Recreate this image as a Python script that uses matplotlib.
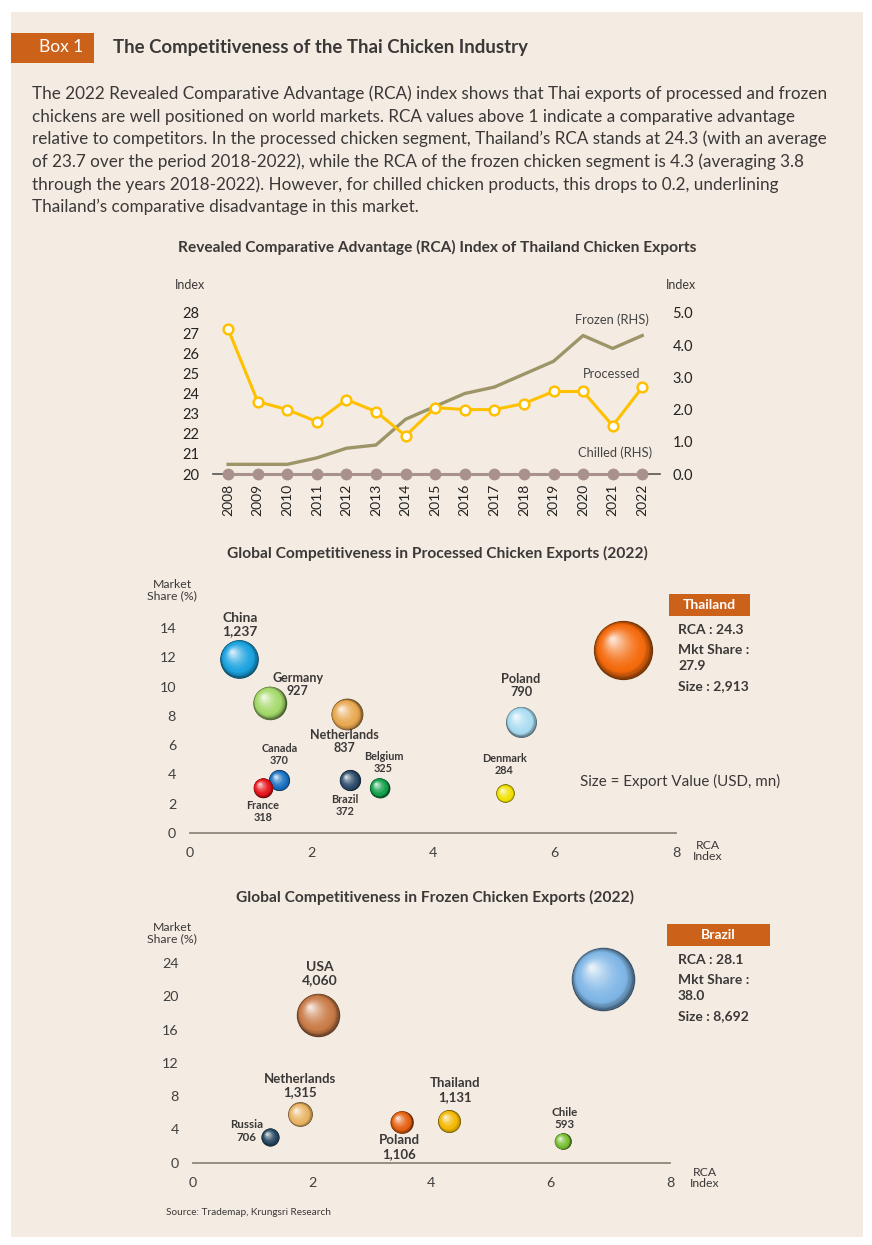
import numpy as np
import matplotlib
matplotlib.use("Agg")
import matplotlib.pyplot as plt
from matplotlib.patches import Rectangle
from matplotlib.transforms import offset_copy
from matplotlib.colors import to_rgb

plt.rcParams['font.family'] = ['Lato', 'DejaVu Sans']

W, H = 872, 1245
BG = '#f4ece2'
TXT = '#3b3838'
ORANGE = '#cc6119'

# ---- RCA line chart data ----
years = [2008, 2009, 2010, 2011, 2012, 2013, 2014, 2015, 2016, 2017, 2018, 2019, 2020, 2021, 2022]
processed = [27.2, 23.6, 23.2, 22.6, 23.7, 23.1, 21.9, 23.3, 23.2, 23.2, 23.5, 24.1, 24.1, 22.4, 24.3]
frozen = [0.3, 0.3, 0.3, 0.5, 0.8, 0.9, 1.7, 2.1, 2.5, 2.7, 3.1, 3.5, 4.3, 3.9, 4.3]
chilled = [0.0, 0.0, 0.0, 0.0, 0.0, 0.0, 0.0, 0.0, 0.0, 0.0, 0.0, 0.0, 0.0, 0.0, 0.0]

# ---- processed chicken bubbles ----
proc_names = ['China', 'Germany', 'Netherlands', 'Canada', 'France', 'Brazil', 'Belgium', 'Denmark', 'Poland', 'Thailand']
proc_rca = [0.81, 1.31, 2.58, 1.47, 1.20, 2.63, 3.12, 5.19, 5.45, 7.13]
proc_share = [11.9, 8.9, 8.1, 3.6, 3.1, 3.6, 3.1, 2.7, 7.6, 12.5]
proc_value = [1237, 927, 837, 370, 318, 372, 325, 284, 790, 2913]
proc_colors = ['#1ba3e0', '#a4d96a', '#e9a850', '#1a72c4', '#e8141c', '#2d4c6c', '#12a24c', '#f2e200', '#a9dcf2', '#f46a0c']

# ---- frozen chicken bubbles ----
frz_names = ['USA', 'Netherlands', 'Russia', 'Poland', 'Thailand', 'Chile', 'Brazil']
frz_rca = [2.10, 1.80, 1.30, 3.50, 4.30, 6.20, 6.88]
frz_share = [17.8, 5.8, 3.1, 4.9, 5.0, 2.6, 22.1]
frz_value = [4060, 1315, 706, 1106, 1131, 593, 8692]
frz_colors = ['#c97b47', '#e9b464', '#26465f', '#e5600f', '#f2b800', '#78bf33', '#7fb6e6']

body = [
    "The 2022 Revealed Comparative Advantage (RCA) index shows that Thai exports of processed and frozen",
    "chickens are well positioned on world markets. RCA values above 1 indicate a comparative advantage",
    "relative to competitors. In the processed chicken segment, Thailand\u2019s RCA stands at 24.3 (with an average",
    "of 23.7 over the period 2018-2022), while the RCA of the frozen chicken segment is 4.3 (averaging 3.8",
    "through the years 2018-2022). However, for chilled chicken products, this drops to 0.2, underlining",
    "Thailand\u2019s comparative disadvantage in this market.",
]


def fx(x):
    return x / W


def fy(y):
    return 1 - y / H


def spheres(ax, xs, ys, vals, colors, scale):
    n = 34
    for k, (x, y, v, c) in enumerate(zip(xs, ys, vals, colors)):
        base = np.array(to_rgb(c))
        dark = base * 0.42
        light = base + (1 - base) * 0.8
        s0 = v * scale
        r = np.sqrt(s0) / 2
        for i in range(n):
            t = i / (n - 1)
            f = 1 - 0.92 * t
            if t < 0.22:
                col = dark + (base - dark) * (t / 0.22) ** 0.7
            else:
                col = base + (light - base) * ((t - 0.22) / 0.78) ** 1.6
            off = (1 - f) * r * 0.4
            tr = offset_copy(ax.transData, fig=ax.figure, x=-off, y=off, units='points')
            ax.scatter([x], [y], s=s0 * f * f, color=np.clip(col, 0, 1), transform=tr,
                       linewidths=0, clip_on=False, zorder=3 + k + i * 0.01)


def bubble_axes(ax, ymax, yticks):
    ax.set_facecolor('none')
    ax.set_xlim(0, 8)
    ax.set_ylim(0, ymax)
    ax.set_xticks([0, 2, 4, 6, 8])
    ax.set_yticks(yticks)
    for s in ['top', 'right', 'left']:
        ax.spines[s].set_visible(False)
    ax.spines['bottom'].set_color('#8f857c')
    ax.spines['bottom'].set_linewidth(1.3)
    ax.tick_params(axis='both', length=0, labelsize=10.3, labelcolor='#404040')
    ax.tick_params(axis='y', pad=10)
    ax.tick_params(axis='x', pad=10)


fig = plt.figure(figsize=(8.72, 12.45), dpi=100)
fig.patch.set_facecolor('white')
fig.add_artist(Rectangle((fx(11), fy(1237)), (863 - 11) / W, (1237 - 12) / H,
                         transform=fig.transFigure, facecolor=BG, edgecolor='none', zorder=0))

# header
fig.add_artist(Rectangle((fx(11), fy(63)), 83 / W, 30 / H, transform=fig.transFigure,
                         facecolor=ORANGE, edgecolor='none', zorder=1))
fig.text(fx(61), fy(47.5), "Box 1", color='white', fontsize=12.5, ha='center', va='center')
fig.text(fx(113), fy(47.5), "The Competitiveness of the Thai Chicken Industry",
         color=TXT, fontsize=13.4, fontweight='bold', va='center')
for i, line in enumerate(body):
    fig.text(fx(32), fy(94 + 22.6 * i), line, fontsize=12.3, color=TXT, va='center')

# ---- line chart ----
fig.text(fx(437), fy(247), "Revealed Comparative Advantage (RCA) Index of Thailand Chicken Exports",
         fontsize=11.2, fontweight='bold', color=TXT, ha='center', va='center')
ax1 = fig.add_axes([fx(213), fy(474), 447 / W, 161 / H])
ax2 = ax1.twinx()
ax1.set_zorder(ax2.get_zorder() + 1)
ax1.patch.set_visible(False)
ax2.patch.set_visible(False)

ax2.plot(years, frozen, color='#9d9568', lw=2.4, zorder=2, clip_on=False)
ax2.plot(years, chilled, color='#a9918d', lw=2.2, marker='o', ms=7.5, mfc='#a9918d', mec='#a9918d',
         zorder=3, clip_on=False)
ax1.plot(years, processed, color='#ffc000', lw=2.2, marker='o', ms=7, mfc='white', mec='#ffc000',
         mew=1.8, clip_on=False)

ax1.set_xlim(2007.49, 2022.6)
ax1.set_ylim(20, 28)
ax2.set_ylim(0, 5)
ax1.set_yticks(range(20, 29))
ax2.set_yticks([0, 1, 2, 3, 4, 5])
ax2.set_yticklabels(['%.1f' % v for v in [0, 1, 2, 3, 4, 5]])
ax1.set_xticks(years)
ax1.set_xticklabels([str(y) for y in years], rotation=90)
for a in (ax1, ax2):
    for s in a.spines.values():
        s.set_visible(False)
ax2.spines['bottom'].set_visible(True)
ax2.spines['bottom'].set_color('#555555')
ax2.spines['bottom'].set_linewidth(1.2)
ax1.tick_params(axis='y', length=0, pad=10, labelsize=10.5, labelcolor='#222222')
ax2.tick_params(axis='y', length=0, pad=9, labelsize=10.5, labelcolor='#222222')
ax1.tick_params(axis='x', length=0, pad=7, labelsize=10, labelcolor='#222222')

fig.text(fx(190), fy(285), "Index", fontsize=9, color=TXT, ha='center', va='center')
fig.text(fx(681), fy(285), "Index", fontsize=9, color=TXT, ha='center', va='center')
fig.text(fx(612), fy(320), "Frozen (RHS)", fontsize=9.3, color='#444444', ha='center', va='center')
fig.text(fx(612), fy(374), "Processed", fontsize=9.3, color='#444444', ha='center', va='center')
fig.text(fx(615), fy(453), "Chilled (RHS)", fontsize=9.3, color='#444444', ha='center', va='center')

# ---- processed bubble chart ----
fig.text(fx(437), fy(553), "Global Competitiveness in Processed Chicken Exports (2022)",
         fontsize=11.2, fontweight='bold', color=TXT, ha='center', va='center')
bx1 = fig.add_axes([fx(190), fy(833), 486 / W, 16 * 14.64 / H])
bubble_axes(bx1, 16, [0, 2, 4, 6, 8, 10, 12, 14])
spheres(bx1, proc_rca, proc_share, proc_value, proc_colors, 0.625)

proc_off = [(0.7, 34), (28, 18), (-2, -27), (0, 26), (0, -24), (-5, -25), (4, 25), (-1, 29), (0, 36)]
proc_fs = [10, 9, 9, 7.8, 7.8, 7.8, 7.8, 7.8, 9.2]
for i in range(9):
    dx, dy = proc_off[i]
    bx1.annotate("%s\n%s" % (proc_names[i], format(proc_value[i], ',')), (proc_rca[i], proc_share[i]),
                 xytext=(dx * 0.72, dy * 0.72), textcoords='offset points', ha='center', va='center',
                 fontsize=proc_fs[i], fontweight='bold', color=TXT, linespacing=1.15, zorder=20)

fig.text(fx(172), fy(590), "Market\nShare (%)", fontsize=8.8, color=TXT, ha='center', va='center',
         linespacing=1.1)
fig.text(fx(708), fy(851), "RCA\nIndex", fontsize=8.8, color=TXT, ha='center', va='center',
         linespacing=1.1)
fig.text(fx(580), fy(781), "Size = Export Value (USD, mn)", fontsize=10.9, color=TXT, va='center')

fig.add_artist(Rectangle((fx(669), fy(616)), 81 / W, 22 / H, transform=fig.transFigure,
                         facecolor=ORANGE, edgecolor='none'))
fig.text(fx(709.5), fy(605), "Thailand", fontsize=10, fontweight='bold', color='white',
         ha='center', va='center')
for txt, yy in [("RCA : 24.3", 630), ("Mkt Share :", 650), ("27.9", 666.5), ("Size : 2,913", 686)]:
    fig.text(fx(678), fy(yy), txt, fontsize=10, fontweight='bold', color=TXT, va='center')

# ---- frozen bubble chart ----
fig.text(fx(435), fy(897), "Global Competitiveness in Frozen Chicken Exports (2022)",
         fontsize=11.2, fontweight='bold', color=TXT, ha='center', va='center')
bx2 = fig.add_axes([fx(192.7), fy(1162.7), 477.3 / W, 232.7 / H])
bubble_axes(bx2, 28, [0, 4, 8, 12, 16, 20, 24])
spheres(bx2, frz_rca, frz_share, frz_value, frz_colors, 0.2406)

frz_off = [(2, 41.5), (0, 29), (-24, 6), (-2, -25), (6, 31), (2, 22.5)]
frz_fs = [10, 9.5, 8.3, 9.5, 9.5, 8.3]
for i in range(6):
    dx, dy = frz_off[i]
    bx2.annotate("%s\n%s" % (frz_names[i], format(frz_value[i], ',')), (frz_rca[i], frz_share[i]),
                 xytext=(dx * 0.72, dy * 0.72), textcoords='offset points', ha='center', va='center',
                 fontsize=frz_fs[i], fontweight='bold', color=TXT, linespacing=1.15, zorder=20)

fig.text(fx(172), fy(933), "Market\nShare (%)", fontsize=8.8, color=TXT, ha='center', va='center',
         linespacing=1.1)
fig.text(fx(705), fy(1178), "RCA\nIndex", fontsize=8.8, color=TXT, ha='center', va='center',
         linespacing=1.1)

fig.add_artist(Rectangle((fx(667), fy(946)), 103 / W, 22 / H, transform=fig.transFigure,
                         facecolor=ORANGE, edgecolor='none'))
fig.text(fx(718.5), fy(935), "Brazil", fontsize=10, fontweight='bold', color='white',
         ha='center', va='center')
for txt, yy in [("RCA : 28.1", 960.5), ("Mkt Share :", 980), ("38.0", 996.5), ("Size : 8,692", 1016.5)]:
    fig.text(fx(678), fy(yy), txt, fontsize=10, fontweight='bold', color=TXT, va='center')

fig.text(fx(166), fy(1212.5), "Source: Trademap, Krungsri Research", fontsize=7.2, color=TXT, va='center')

fig.savefig("out.png", dpi=100, facecolor='white')
